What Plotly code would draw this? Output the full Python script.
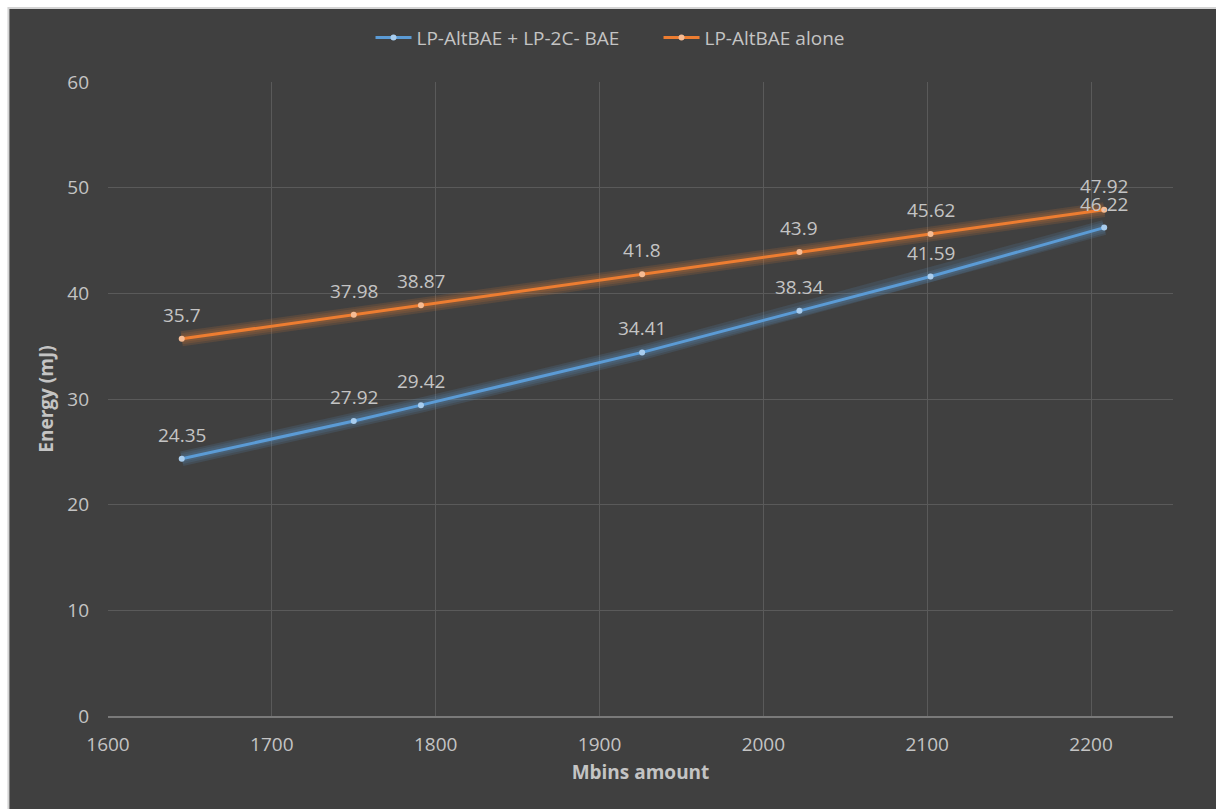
import plotly.graph_objects as go

# Mbins amount on the x axis, energy in mJ on the y axis
mbins = [1645, 1750, 1791, 1926, 2022, 2102, 2208]
energy_combined = [24.35, 27.92, 29.42, 34.41, 38.34, 41.59, 46.22]
energy_alone = [35.7, 37.98, 38.87, 41.8, 43.9, 45.62, 47.92]

series_names = ["LP-AltBAE + LP-2C- BAE", "LP-AltBAE alone"]
x_ticks = [1600, 1700, 1800, 1900, 2000, 2100, 2200]
y_ticks = [0, 10, 20, 30, 40, 50, 60]

BLUE = "#5B9BD5"
BLUE_GLOW = "rgba(91,155,213,0.14)"
BLUE_MARK = "#A9CDEE"
ORANGE = "#ED7D31"
ORANGE_GLOW = "rgba(237,125,49,0.14)"
ORANGE_MARK = "#F6BC94"
PANEL = "#404040"
TEXT = "#C4C4C4"
GRID = "#5A5A5A"
FONT = "Open Sans"
FS = 19

fig = go.Figure()

series = [
    (series_names[0], energy_combined, BLUE, BLUE_GLOW, BLUE_MARK),
    (series_names[1], energy_alone, ORANGE, ORANGE_GLOW, ORANGE_MARK),
]

# soft glow under each line
for name, ys, col, glow, mark in series:
    for w in (15, 11, 7):
        fig.add_trace(go.Scatter(
            x=mbins, y=ys, mode="lines",
            line=dict(color=glow, width=w),
            hoverinfo="skip", showlegend=False,
        ))

for name, ys, col, glow, mark in series:
    fig.add_trace(go.Scatter(
        x=mbins, y=ys, mode="lines+markers", name=name,
        line=dict(color=col, width=3),
        marker=dict(color=mark, size=6, line=dict(width=0)),
    ))

# value labels above every point
for name, ys, col, glow, mark in series:
    for xv, yv in zip(mbins, ys):
        fig.add_annotation(
            x=xv, y=yv, text=f"{yv:g}", showarrow=False,
            yshift=24, xanchor="center", yanchor="middle",
            font=dict(family=FONT, size=FS, color=TEXT),
        )

# dark panel with a light border behind the whole chart
fig.add_shape(
    type="rect", xref="paper", yref="paper",
    x0=-0.0935, x1=1.045, y0=-0.16, y1=1.1167,
    fillcolor=PANEL, line=dict(color="#D4D4D4", width=2),
    layer="below",
)

fig.update_layout(
    width=1216, height=809,
    margin=dict(l=108, r=43, t=82, b=93),
    paper_bgcolor="white",
    plot_bgcolor="rgba(0,0,0,0)",
    font=dict(family=FONT, size=FS, color=TEXT),
    showlegend=True,
    legend=dict(
        orientation="h", x=0.2465, xanchor="left", y=1.07, yanchor="middle",
        bgcolor="rgba(0,0,0,0)", font=dict(family=FONT, size=FS, color=TEXT),
        itemwidth=36, tracegroupgap=0,
        entrywidth=237, entrywidthmode="pixels",
    ),
)

fig.update_xaxes(
    range=[1600, 2250], tickvals=x_ticks,
    showgrid=True, gridcolor=GRID, gridwidth=1,
    showline=True, linecolor="#7A7A7A", linewidth=1.5,
    zeroline=False, ticks="", ticklabelstandoff=10,
    tickfont=dict(family=FONT, size=FS, color=TEXT),
    title=dict(text="<b>Mbins amount</b>", standoff=10,
               font=dict(family=FONT, size=FS, color=TEXT)),
)
fig.update_yaxes(
    range=[0, 60], tickvals=y_ticks,
    showgrid=True, gridcolor=GRID, gridwidth=1,
    showline=False, zeroline=False, ticks="", ticklabelstandoff=18,
    tickfont=dict(family=FONT, size=FS, color=TEXT),
    title=dict(text="<b>Energy (mJ)</b>", standoff=8,
               font=dict(family=FONT, size=FS, color=TEXT)),
)

fig.write_html("out.html")
